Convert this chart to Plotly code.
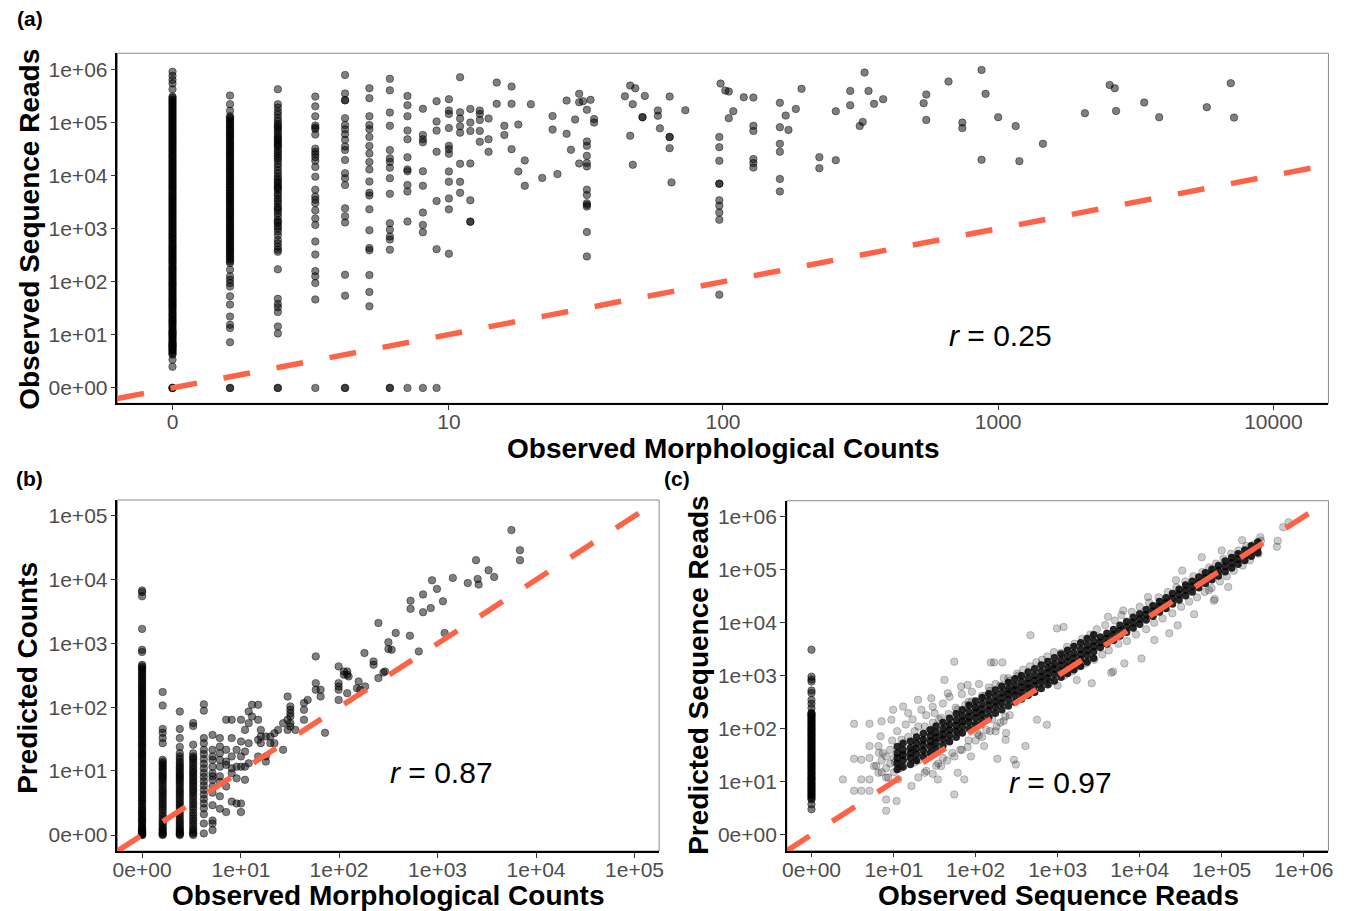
import numpy as np
import plotly.graph_objects as go

LN10 = np.log(10.0)


def pseudo_log(v):
    """ggplot-style pseudo-log (sigma = 1) transform used for all axes."""
    return np.arcsinh(np.asarray(v, dtype=float) / 2.0) / LN10


# =====================  Panel (a): Observed morph counts vs observed reads
a_counts_cols = [0, 1, 2, 3, 4, 5, 6, 7, 8, 9, 10, 11, 12, 13, 14, 15, 16, 17, 18, 19, 20,
                 22, 24, 25, 27, 28, 29, 30, 31, 32, 33, 34,
                 44, 46, 47, 48, 51, 52, 58, 59, 64, 65, 73,
                 97, 98, 102, 105, 109, 119, 129, 161, 169, 173, 184, 193,
                 224, 257, 290, 314, 322, 327, 338, 354, 382,
                 536, 548, 660, 741, 870, 900, 1000, 1158, 1194, 1454,
                 2066, 2541, 2652, 2682, 3394, 3846, 5728, 7000, 7194]
a_reads_cols = [
    [0, 0, 0, 2.1, 3.1, 4, 4.5, 5, 5.5, 6, 6.5, 7, 8, 9, 10, 11, 12, 14, 16, 18, 20, 23, 26, 30, 34, 38,
     43, 48, 55, 62, 70, 80, 90, 100, 115, 130, 150, 170, 190, 220, 250, 280, 320, 360, 410, 460, 520,
     600, 680, 770, 870, 1000, 1150, 1300, 1500, 1700, 1950, 2200, 2500, 2850, 3250, 3700, 4200, 4800,
     5500, 6200, 7000, 8000, 9100, 10400, 11800, 13500, 15400, 17500, 20000, 23000, 26000, 30000, 34000,
     39000, 44000, 50000, 57000, 65000, 74000, 84000, 96000, 110000, 125000, 142000, 162000, 185000,
     210000, 240000, 270000, 305000, 420000, 540000, 630000, 750000, 900000,
     4.2, 4.8, 5.2, 5.8, 6.2, 6.8, 7.5, 8.5, 9.5, 10.5, 11.5, 13, 15, 17, 19, 21.5, 24.5, 28, 32, 36,
     40.5, 45.5, 51, 58, 66, 75, 85, 95, 107, 122, 140, 160, 180, 205, 235, 265, 300, 340, 385, 435,
     490, 560, 640, 725, 820, 935, 1070, 1220, 1400, 1600, 1820, 2070, 2350, 2680, 3050, 3480, 3950,
     4500, 5150, 5850, 6600, 7500, 8550, 9750, 11100, 12600, 14400, 16400, 18700, 21500, 24500, 28000,
     32000, 36500, 41500, 47000, 53500, 61000, 69500, 79000, 90000, 103000, 117000, 133000, 152000,
     173000, 197000, 225000, 255000, 290000],
    [0, 0, 7.1, 13.3, 15.4, 22, 37, 53, 81, 94, 109, 126, 168, 224, 260, 300, 350, 400, 460, 530, 610,
     700, 800, 920, 1050, 1200, 1400, 1600, 1850, 2100, 2400, 2800, 3200, 3700, 4200, 4800, 5500, 6300,
     7200, 8300, 9500, 11000, 12500, 14500, 16500, 19000, 22000, 25000, 29000, 33000, 38000, 43000,
     50000, 57000, 65000, 75000, 86000, 100000, 115000, 130000, 165000, 220000, 320000,
     240, 280, 325, 375, 430, 495, 570, 655, 750, 860, 985, 1120, 1300, 1500, 1720, 1970, 2250, 2600,
     3000, 3450, 3950, 4500, 5150, 5900, 6750, 7750, 8900, 10200, 11700, 13500, 15500, 17700, 20500,
     23500, 27000, 31000, 35500, 40500, 46500, 53500, 61000, 70000, 80000, 93000, 107000, 122000],
    [0, 0, 10.5, 14.3, 26.7, 33, 38, 47.5, 171, 365, 455, 610, 880, 1000, 1250, 1450, 1700, 2200, 2600,
     3000, 3700, 4600, 5300, 6100, 7300, 8700, 11000, 14500, 19000, 23000, 28000, 35000, 40000, 47000,
     54000, 67000, 80000, 93000, 120000, 160000, 220000, 420000,
     400, 530, 750, 1100, 1350, 1950, 2400, 3300, 4200, 5700, 6600, 7900, 9600, 12500, 16500, 21000,
     25500, 31000, 37000, 43500, 50000, 60000, 73000, 86000, 105000, 140000, 190000],
    [0, 46.3, 94, 126, 158, 325, 570, 1170, 1550, 2200, 3000, 3500, 4000, 5400, 9500, 14500, 19000,
     22000, 25000, 28000, 32000, 59000, 75000, 80000, 87000, 130000, 200000, 305000],
    [0, 0, 54.6, 135, 1300, 1700, 2400, 6600, 8900, 11000, 19500, 30000, 35000, 47000, 60000, 74000,
     89000, 120000, 260000, 260000, 350000, 780000],
    [34.3, 64, 133, 390, 430, 930, 2300, 4200, 4700, 7700, 13000, 18000, 26000, 36000, 53000, 74000,
     89000, 130000, 285000, 440000],
    [0, 0, 400, 620, 710, 950, 1260, 4500, 8900, 14000, 18000, 21000, 30000, 86000, 153000, 400000, 660000],
    [0, 1360, 5000, 6600, 12000, 13000, 22000, 48000, 70000, 130000, 210000, 315000],
    [0, 850, 1170, 2000, 6400, 12000, 42000, 48000, 58000, 180000],
    [0, 410, 3300, 28000, 70000, 104000, 250000],
    [273000, 167000, 144000, 78000, 36100, 31300, 25600, 11900, 7600, 3700, 2300, 336],
    [708000, 155000, 118000, 84000, 64000, 16600, 7600, 4700],
    [179000, 99000, 69000, 16800, 3400, 1350, 1350],
    [167000, 144000, 111000, 69000, 43000],
    [118000, 48000, 27900],
    [561000, 223000],
    [86000, 58000],
    [472000, 223000, 31300],
    [91000, 11900],
    [19200, 6400],
    [220000],
    [9000],
    [131000, 73000],
    [10600],
    [257000, 61000],
    [30400],
    [113000],
    [344000, 239000, 16800],
    [250000],
    [172000, 43600, 36100, 23400, 17100, 14800, 5400, 4300, 3000, 2800, 2600, 860, 299],
    [265000],
    [115000, 99000],
    [310000],
    [493000, 56000],
    [220000, 15900],
    [439000],
    [125000, 125000],
    [315000],
    [167000, 133000],
    [77000],
    [306000, 53000, 53000, 32700],
    [7400],
    [169000],
    [53000, 34100, 18900, 7000, 7000, 3400, 2700, 2000, 1470, 57],
    [537000],
    [397000],
    [380000, 120000],
    [162000],
    [297000],
    [293000, 86000, 69000, 20300, 17100, 14100],
    [233000, 81000, 39400, 27900, 8600, 5000],
    [134000],
    [72000],
    [179000],
    [427000],
    [22100, 13700],
    [162000, 19400],
    [391000, 210000],
    [85000],
    [102000],
    [865000],
    [391000],
    [223000],
    [273000],
    [229000],
    [334000, 111000],
    [586000],
    [99000, 78000],
    [970000, 19700],
    [344000],
    [125000],
    [85000],
    [18600],
    [39400],
    [149000],
    [507000],
    [439000],
    [164000],
    [236000],
    [125000],
    [193000],
    [546000],
    [123000],
]
a_tick_values = [0, 10, 100, 1000, 10000]
a_tick_labels = ["0", "10", "100", "1000", "10000"]
a_ytick_values = [0, 1e1, 1e2, 1e3, 1e4, 1e5, 1e6]
a_ytick_labels = ["0e+00", "1e+01", "1e+02", "1e+03", "1e+04", "1e+05", "1e+06"]

# =====================  Panel (b): Observed morph counts vs predicted counts
b_obs_cols = [0, 1, 2, 3, 4, 5, 6, 7, 8, 9, 10, 11, 12, 13, 15, 16, 18, 20, 22, 24, 27, 30, 32, 36,
              44, 48, 58, 65, 72, 99, 112,
              121, 125, 152, 158, 164, 181, 184, 224, 251, 282, 293, 317, 342, 376,
              524, 532, 645, 713, 853, 879, 987, 1135, 1180, 1430,
              2027, 2460, 2553, 2614, 3296, 3758, 5623, 6871]
b_pred_cols = [
    [0, 0, 0.1, 0.2, 0.3, 0.5, 0.7, 1, 1.2, 1.5, 1.8, 2.1, 2.5, 3, 3.4, 3.9, 4.5, 5.1, 5.8, 6.6, 7.5,
     8.5, 9.6, 11, 12.5, 14, 16, 18, 20, 23, 26, 29, 33, 37, 42, 47, 53, 60, 68, 76, 86, 97, 110, 124,
     140, 158, 178, 200, 225, 255, 290, 330, 375, 420, 465, 740, 800, 1700, 5500, 6400, 6800,
     0.05, 0.15, 0.25, 0.4, 0.6, 0.85, 1.1, 1.35, 1.65, 1.95, 2.3, 2.75, 3.2, 3.65, 4.2, 4.8, 5.45,
     6.2, 7, 8, 9, 10.3, 11.7, 13.2, 15, 17, 19, 21.5, 24.5, 27.5, 31, 35, 39.5, 44.5, 50, 56.5, 64,
     72, 81, 91, 103, 117, 132, 149, 168, 189, 212, 240, 272, 310, 350, 395, 440],
    [0, 0.1, 0.3, 0.5, 0.8, 1.1, 1.5, 2, 2.5, 3, 3.6, 4.3, 5, 6, 7, 8, 9, 10.4, 11.7, 13.2, 15, 27.5,
     33, 40, 46, 107, 174,
     0.05, 0.2, 0.4, 0.65, 0.95, 1.3, 1.75, 2.25, 2.75, 3.3, 3.95, 4.65, 5.5, 6.5, 7.5, 8.5, 9.7, 11,
     12.5, 14],
    [0, 0.1, 0.3, 0.5, 0.8, 1.1, 1.5, 2, 2.5, 3, 3.6, 4.3, 5, 6, 7, 8, 9, 10.5, 12, 14, 17, 19, 24, 33,
     46, 86,
     0.05, 0.2, 0.4, 0.65, 0.95, 1.3, 1.75, 2.25, 2.75, 3.3, 3.95, 4.65, 5.5, 6.5, 7.5, 8.5, 9.7, 11.2,
     13, 15.5],
    [0, 0.2, 0.5, 0.9, 1.3, 1.8, 2.4, 3, 3.8, 4.6, 5.5, 6.5, 7.6, 9, 10.5, 12.5, 15, 17, 19, 26, 51, 57,
     0.1, 0.35, 0.7, 1.1, 1.55, 2.1, 2.7, 3.4, 4.2, 5, 6, 7, 8.3, 9.7, 11.5, 13.7, 16],
    [0.12, 0.86, 1.65, 2.24, 2.8, 3.4, 4.1, 4.9, 5.8, 6.8, 8, 9.3, 11, 13, 15.5, 18.5, 21.6, 27.5, 33,
     89, 112],
    [0.36, 0.86, 1.1, 2.6, 4.4, 5.6, 7.2, 8.2, 9.2, 11.7, 15, 17, 21.6, 37],
    [33, 24.3, 19.1, 15, 11.7, 8.2, 6.7, 3.8, 2.2],
    [64, 21.6, 14.1, 12.5, 5.6, 1.85],
    [64, 33, 17, 11, 9.2, 3.05],
    [21.6, 11.7, 7.6, 2.8],
    [64, 29.2, 17, 11.7, 2.8, 1.85],
    [44.4, 20.3, 11.7, 7.2],
    [86, 56.6, 27.5, 13.2],
    [110, 72],
    [110, 64, 31, 17],
    [44.4, 35, 27.5],
    [35, 17, 14.1],
    [35, 27.5],
    [39.4, 27.5],
    [44.4],
    [56.6, 21.6],
    [148, 64, 44.4],
    [103.5, 92, 81, 72, 56.6, 50],
    [44.4],
    [117, 92, 64],
    [131],
    [630, 240, 189],
    [189, 148],
    [40],
    [439, 240, 213, 189, 131],
    [366, 325],
    [366, 325, 167],
    [306],
    [200],
    [255],
    [189],
    [711],
    [213],
    [526, 466],
    [2100, 288],
    [353],
    [366],
    [1050, 820],
    [800],
    [1470],
    [1330],
    [4700, 3500],
    [755],
    [5900, 3100],
    [3600],
    [9800],
    [7200],
    [4600],
    [1470],
    [10700],
    [8900],
    [20300],
    [10300],
    [8400],
    [14100],
    [11100],
    [60000],
    [29100, 20300],
]
b_tick_values = [0, 1e1, 1e2, 1e3, 1e4, 1e5]
b_tick_labels = ["0e+00", "1e+01", "1e+02", "1e+03", "1e+04", "1e+05"]

# =====================  Panel (c): Observed reads vs predicted reads
c_zero_obs = 0
c_zero_pred = [2.7, 3.5, 4.4, 5, 5.6, 6.3, 7, 7.8, 8.7, 9.7, 11, 12, 13.5, 15, 17, 19, 21, 23.5, 26, 29,
               32, 36, 40, 45, 50, 56, 62, 70, 78, 87, 97, 108, 120, 135, 150, 168, 185, 200, 245, 295,
               350, 470, 525, 775, 850, 960, 3100,
               4.7, 5.3, 5.9, 6.6, 7.4, 8.2, 9.2, 10.3, 11.5, 12.7, 14.2, 16, 18, 20, 22, 24.7, 27.5,
               30.5, 34, 38, 42.5, 47.5, 53, 59, 66, 74, 82, 92, 102, 114, 127, 142, 159, 176, 192]
# dense core of the cloud: observed reads with the predicted reads read at
# several heights through the black band
c_core_obs = [11, 13, 16, 19, 23, 28, 33, 40, 48, 58, 69, 83, 100, 120, 145, 174, 209, 251, 302, 363,
              437, 525, 631, 759, 912, 1100, 1320, 1580, 1910, 2290, 2750, 3310, 3980, 4790, 5750, 6920,
              8320, 10000, 12000, 14500, 17400, 20900, 25100, 30200, 36300, 43700, 52500, 63100, 75900,
              91200, 110000, 132000, 158000, 191000, 229000, 275000]
c_core_pred_mid = [28, 32, 35, 42, 49, 58, 68, 79, 95, 115, 138, 166, 200, 234, 275, 324, 380, 447, 525,
                   603, 708, 813, 955, 1120, 1320, 1550, 1820, 2140, 2510, 3020, 3550, 4270, 5010, 5890,
                   7080, 8320, 10000, 11700, 14100, 16600, 20000, 23400, 28200, 33900, 40700, 47900,
                   57500, 69200, 81300, 95500, 115000, 135000, 158000, 186000, 224000, 263000]
c_core_pred_lo = [22, 25, 28, 33, 39, 46, 54, 63, 75, 91, 110, 132, 159, 186, 218, 257, 302, 355, 417,
                  479, 562, 646, 759, 890, 1050, 1230, 1450, 1700, 1990, 2400, 2820, 3390, 3980, 4680,
                  5620, 6610, 7940, 9290, 11200, 13200, 15900, 18600, 22400, 26900, 32300, 38000, 45700,
                  55000, 64600, 75900, 91300, 107000, 126000, 148000, 178000, 209000]
c_core_pred_hi = [35, 40, 44, 53, 62, 73, 86, 99, 120, 145, 174, 209, 252, 295, 346, 408, 478, 563, 661,
                  759, 891, 1020, 1200, 1410, 1660, 1950, 2290, 2690, 3160, 3800, 4470, 5380, 6310, 7420,
                  8910, 10500, 12600, 14700, 17800, 20900, 25200, 29500, 35500, 42700, 51200, 60300,
                  72400, 87100, 102000, 120000, 145000, 170000, 199000, 234000, 282000, 331000]
# outer edges of the band where it is wide (observed reads up to ~2750)
c_core_pred_lo2 = [17, 19, 21, 25, 30, 35, 41, 48, 57, 69, 83, 100, 120, 141, 166, 195, 229, 269, 316,
                   363, 427, 490, 575, 675, 795, 934, 1100, 1290, 1510, 1820, 2140]
c_core_pred_hi2 = [46, 53, 58, 70, 81, 96, 113, 131, 158, 191, 229, 276, 332, 388, 457, 538, 631, 742,
                   872, 1000, 1180, 1350, 1590, 1860, 2190, 2570, 3020, 3550, 4170, 5010, 5890]
# scattered points around the core
c_spread_obs = [2.0, 3.0, 3.0, 3.0, 3.8, 3.8, 3.8, 4.9, 4.9, 4.9, 4.9, 4.9, 5.6, 6.4, 6.4, 7.0, 6.8, 7.3,
                8.0, 8.0, 8.0, 9.3, 9.8, 10.3, 10.8, 11.3, 12.4, 13, 15, 16.5, 18, 19.8, 21.8, 23.9, 28.8,
                31.6, 34.7, 38, 41.7, 45.8, 55, 55, 60.5, 66.4, 72.8, 79.8, 87.7, 105, 116, 127, 153, 168,
                184, 212, 232,
                11, 12, 14, 14, 17, 17, 20, 20, 22, 25, 25, 27, 30, 30, 33, 36, 36, 40, 40, 44, 48, 48, 52,
                57, 62, 68, 68, 75, 82, 82, 90, 95, 100, 110, 110, 120, 130, 135, 145, 160, 175, 175, 190,
                200, 220, 230, 240,
                466, 980, 1180, 4100, 10500, 4500, 6500, 46000, 80000, 70000, 177000, 295000, 470000,
                480000, 560000, 650000, 740, 560, 405, 310, 235, 293,
                250, 280, 320, 350, 380, 420, 460, 500, 550, 600, 650, 700, 750, 800, 850, 900,
                1000, 1100, 1200, 1300, 1500, 1600, 1800, 2000, 2200, 2500, 2800, 3000, 3500, 3800, 4200,
                5000, 5500, 6000, 7000, 8000, 9000, 10000,
                12000, 13000, 15000, 17000, 19000, 22000, 25000, 28000, 32000, 36000, 40000, 45000,
                50000, 58000, 62000, 70000, 75000, 85000, 95000, 105000, 115000, 130000, 140000, 160000,
                180000, 200000, 220000, 250000, 280000, 300000,
                1710, 2600, 4750, 15100, 22900, 29000, 82000, 120000, 6300, 12600, 27700, 33000, 57000,
                100000,
                6, 7, 7, 8, 8, 9, 9, 10, 10, 6.5, 8.5, 9.5,
                20, 25, 30, 35, 45, 55, 65, 80, 100, 120, 150, 180, 220, 260,
                15, 18, 24, 30, 38, 47, 60, 75, 90, 120, 150, 200, 260, 330]
c_spread_pred = [11, 124, 27, 6.6, 26, 11, 6.6, 124, 47, 28, 11, 6.6, 19.7, 47, 14.7, 138, 72, 35,
                 11.9, 4.4, 2.5, 148, 228, 23, 4.1, 11, 62, 263, 197, 8.2, 23, 351, 228, 14.7, 377,
                 197, 11, 19.7, 833, 468, 1840, 5.6, 14.7, 625, 11, 671, 30, 83, 119, 47, 1780, 1780,
                 27, 1780, 62,
                 90, 18, 120, 30, 150, 40, 25, 110, 60, 180, 35, 90, 260, 50, 20, 150, 70, 300, 28, 110,
                 400, 60, 35, 250, 85, 450, 40, 140, 320, 60, 500, 110, 250, 700, 75, 180, 420, 95, 600,
                 150, 700, 90, 300, 130, 900, 170, 500,
                 5800, 7800, 8300, 12900, 2100, 1140, 1700, 14400, 26000, 41000, 360000, 410000,
                 270000, 350000, 630000, 780000, 119, 148, 47, 21, 83, 26,
                 900, 550, 1100, 400, 1300, 600, 1500, 500, 1800, 700, 2000, 900, 2300, 750, 1500,
                 2800,
                 650, 2700, 1000, 3500, 1200, 4000, 1500, 5000, 1700, 6000, 2000, 7500, 2500, 9000,
                 3000, 11000, 4000, 14000, 4500, 16000, 6000, 20000,
                 7500, 24000, 10000, 30000, 12000, 38000, 15000, 46000, 20000, 60000, 25000, 75000,
                 30000, 90000, 38000, 110000, 45000, 130000, 60000, 160000, 75000, 200000, 95000,
                 230000, 120000, 280000, 150000, 300000, 200000, 350000,
                 830, 720, 1200, 4700, 6300, 8900, 28000, 47000, 17000, 30400, 63000, 96000, 171000,
                 229000,
                 20, 25, 15, 30, 18, 40, 22, 28, 15, 35, 12, 60,
                 12, 16, 14, 22, 25, 30, 40, 45, 60, 70, 90, 110, 140, 180,
                 70, 90, 110, 130, 160, 190, 230, 280, 330, 420, 520, 650, 800, 1000]
c_tick_values = [0, 1e1, 1e2, 1e3, 1e4, 1e5, 1e6]
c_tick_labels = ["0e+00", "1e+01", "1e+02", "1e+03", "1e+04", "1e+05", "1e+06"]

# correlation labels
r_labels = {"a": "0.25", "b": "0.87", "c": "0.97"}

assert len(a_counts_cols) == len(a_reads_cols)
assert len(b_obs_cols) == len(b_pred_cols)
assert len(c_core_obs) == len(c_core_pred_lo) == len(c_core_pred_mid) == len(c_core_pred_hi)
assert len(c_core_pred_lo2) == len(c_core_pred_hi2)
assert len(c_spread_obs) == len(c_spread_pred)


def flatten(cols, vals):
    xs, ys = [], []
    for c, vs in zip(cols, vals):
        xs += [c] * len(vs)
        ys += list(vs)
    return xs, ys


a_x, a_y = flatten(a_counts_cols, a_reads_cols)
b_x, b_y = flatten(b_obs_cols, b_pred_cols)
c0_x = [c_zero_obs] * len(c_zero_pred)
n_edge = len(c_core_pred_lo2)
core_x = c_core_obs * 3 + c_core_obs[:n_edge] * 2
core_y = c_core_pred_lo + c_core_pred_mid + c_core_pred_hi + c_core_pred_lo2 + c_core_pred_hi2

# ----------------------------------------------------------- figure / layout
W, H = 1352, 911
FONT = "Liberation Sans, Arial, Helvetica, sans-serif"
TICK_FONT = dict(family=FONT, size=21, color="#4d4d4d")
LINE_COLOR = "tomato"

panels = {
    # name: (x px range, y px range, x range, y range)
    "a": ((113.3, 1333.3), (53.3, 403.3), (-0.2, 4.2), (-0.29, 6.3)),
    "b": ((113.3, 659.0), (500.0, 851.0), (-0.25, 5.25), (-0.25, 5.25)),
    "c": ((787.7, 1333.3), (500.7, 850.7), (-0.3, 6.3), (-0.3, 6.3)),
}
axis_ids = {"a": ("x", "y"), "b": ("x2", "y2"), "c": ("x3", "y3")}

fig = go.Figure()

pt_marker = dict(size=7.5, color="rgba(0,0,0,0.5)",
                 line=dict(color="rgba(0,0,0,0.6)", width=0.7))
light_marker = dict(size=7.5, color="rgba(0,0,0,0.2)",
                    line=dict(color="rgba(0,0,0,0.3)", width=0.7))
core_marker = dict(size=7.5, color="rgba(0,0,0,0.85)", line=dict(width=0))

fig.add_trace(go.Scatter(x=pseudo_log(a_x), y=pseudo_log(a_y), mode="markers",
                         marker=pt_marker, xaxis="x", yaxis="y", showlegend=False))
fig.add_trace(go.Scatter(x=pseudo_log(b_x), y=pseudo_log(b_y), mode="markers",
                         marker=pt_marker, xaxis="x2", yaxis="y2", showlegend=False))
fig.add_trace(go.Scatter(x=pseudo_log(c0_x), y=pseudo_log(c_zero_pred), mode="markers",
                         marker=pt_marker, xaxis="x3", yaxis="y3", showlegend=False))
fig.add_trace(go.Scatter(x=pseudo_log(c_spread_obs), y=pseudo_log(c_spread_pred), mode="markers",
                         marker=light_marker, xaxis="x3", yaxis="y3", showlegend=False))
fig.add_trace(go.Scatter(x=pseudo_log(core_x), y=pseudo_log(core_y), mode="markers",
                         marker=core_marker, xaxis="x3", yaxis="y3", showlegend=False))

# identity (1:1) dashed lines across each panel
for name, (_, _, xr, yr) in panels.items():
    ax, ay = axis_ids[name]
    lo, hi = xr[0], xr[1]
    fig.add_trace(go.Scatter(x=[lo, hi], y=[lo, hi], mode="lines",
                             line=dict(color=LINE_COLOR, width=5.5, dash="27px,27px"),
                             xaxis=ax, yaxis=ay, showlegend=False, hoverinfo="skip"))

layout = dict(width=W, height=H, margin=dict(l=0, r=0, t=0, b=0),
              paper_bgcolor="white", plot_bgcolor="white", showlegend=False,
              font=dict(family=FONT, color="black"))

ticks_per_panel = {
    "a": (a_tick_values, a_tick_labels, a_ytick_values, a_ytick_labels),
    "b": (b_tick_values, b_tick_labels, b_tick_values, b_tick_labels),
    "c": (c_tick_values, c_tick_labels, c_tick_values, c_tick_labels),
}

shapes = []
for name, ((px0, px1), (py0, py1), xr, yr) in panels.items():
    ax, ay = axis_ids[name]
    xkey = "xaxis" + ax[1:]
    ykey = "yaxis" + ay[1:]
    xtv, xtt, ytv, ytt = ticks_per_panel[name]
    common = dict(showgrid=False, zeroline=False, showline=True, linecolor="black", linewidth=1.5,
                  ticks="outside", ticklen=5, tickwidth=1, tickcolor="#333333", tickfont=TICK_FONT,
                  fixedrange=True)
    layout[xkey] = dict(domain=[px0 / W, px1 / W], range=list(xr), anchor=ay, ticklabelstandoff=-6,
                        tickmode="array", tickvals=list(pseudo_log(xtv)), ticktext=xtt, **common)
    layout[ykey] = dict(domain=[1 - py1 / H, 1 - py0 / H], range=list(yr), anchor=ax,
                        ticklabelstandoff=-1,
                        tickmode="array", tickvals=list(pseudo_log(ytv)), ticktext=ytt, **common)
    shapes.append(dict(type="rect", xref=ax + " domain", yref=ay + " domain", x0=0, x1=1, y0=0, y1=1,
                       line=dict(color="#8a8a8a", width=1), layer="below"))
layout["shapes"] = shapes


def ann(text, xpx, ypx, size=28, angle=0, bold=True, color="black"):
    return dict(text=("<b>%s</b>" % text) if bold else text, x=xpx / W, y=1 - ypx / H,
                xref="paper", yref="paper", showarrow=False, textangle=angle,
                xanchor="center", yanchor="middle",
                font=dict(family=FONT, size=size, color=color))


annotations = [
    ann("Observed Morphological Counts", 723, 448),
    ann("Observed Sequence Reads", 24, 229, angle=-90),
    ann("Observed Morphological Counts", 386, 895),
    ann("Predicted Counts", 22, 678, angle=-90),
    ann("Observed Sequence Reads", 1061, 895),
    ann("Predicted Sequence Reads", 698, 675, angle=-90),
    ann("(a)", 25, 19, size=21),
    ann("(b)", 25, 478, size=21),
    ann("(c)", 677, 478, size=21),
    ann("<i>r</i> = " + r_labels["a"], 1003, 335, size=30, bold=False),
    ann("<i>r</i> = " + r_labels["b"], 440, 772, size=30, bold=False),
    ann("<i>r</i> = " + r_labels["c"], 1063, 782, size=30, bold=False),
]
layout["annotations"] = annotations

fig.update_layout(**layout)
fig.write_html("out.html", config={"displayModeBar": False},
               post_script="document.body.style.margin='0';document.body.style.overflow='hidden';")
